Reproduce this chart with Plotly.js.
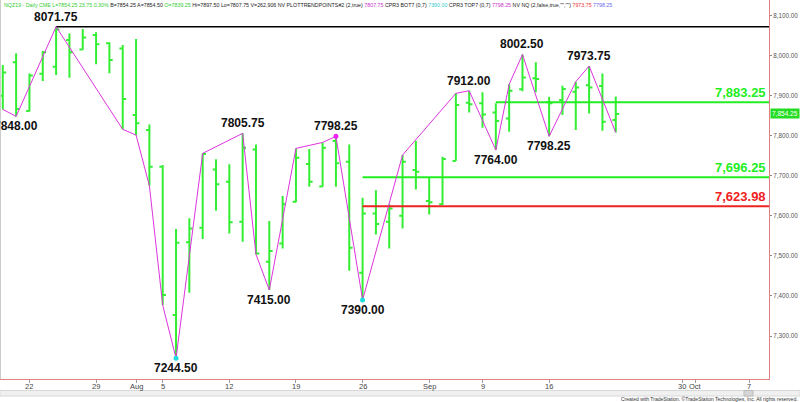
<!DOCTYPE html>
<html><head><meta charset="utf-8">
<script src="https://cdn.plot.ly/plotly-3.0.1.min.js"></script>
<style>html,body{margin:0;padding:0;background:#fff}#chart{width:800px;height:402px}</style>
</head><body><div id="chart"></div>
<script>
// ---- data ----
const dates = ['2019-07-18','2019-07-19','2019-07-22','2019-07-23','2019-07-24','2019-07-25','2019-07-26',
 '2019-07-29','2019-07-30','2019-07-31','2019-08-01','2019-08-02','2019-08-05','2019-08-06','2019-08-07',
 '2019-08-08','2019-08-09','2019-08-12','2019-08-13','2019-08-14','2019-08-15','2019-08-16','2019-08-19',
 '2019-08-20','2019-08-21','2019-08-22','2019-08-23','2019-08-26','2019-08-27','2019-08-28','2019-08-29',
 '2019-08-30','2019-09-03','2019-09-04','2019-09-05','2019-09-06','2019-09-09','2019-09-10','2019-09-11',
 '2019-09-12','2019-09-13','2019-09-16','2019-09-17','2019-09-18','2019-09-19','2019-09-20','2019-09-23'];
const futureDates = ['2019-09-24','2019-09-25','2019-09-26','2019-09-27','2019-09-30','2019-10-01','2019-10-02',
 '2019-10-03','2019-10-04','2019-10-07','2019-10-08','2019-10-09'];
const opens = [7899.6,7982.8,7861.5,7954.5,7972,8038.5,8015,8051,8030.2,8017.7,7851.4,7814,7722.5,7352.4,7533.7,
 7570,7715.8,7685,7585,7765.7,7485.5,7531,7635,7729,7673,7786.5,7735,7458,7606,7585,7600,7714,7636.8,7628.5,
 7737,7882,7880.5,7858,7843,7916,7942.9,7883,7888.8,7909.6,7926,7923.7,7839.25];
const highs = [7976,8005.3,7955,8011,8071.75,8055,8066,8057.7,8032.7,8026,8041,7828,7726.6,7567,7593.6,
 7755.7,7740.8,7728.3,7805.75,7778,7586.9,7649.3,7768.2,7766.6,7783,7798.25,7778,7645,7664,7628.5,7751.6,
 7786.5,7695.9,7747.4,7905.5,7912,7908,7880.5,7928,8002.5,7982.8,7897,7924.6,7934.6,7973.75,7955,7897.5];
const lows = [7865.5,7848,7860,7936,7951.2,7944.5,8014,7977.8,7955.4,7815.6,7801.5,7675,7377.3,7244.5,7408,
 7542,7612.7,7556,7535,7503.7,7415,7518.7,7633.5,7672.6,7672.6,7672.6,7463,7390,7553.6,7518.7,7568.6,
 7665.9,7603.5,7626.8,7736.6,7858,7819.8,7764,7809.8,7911,7908,7798.25,7851.4,7814,7855.5,7812,7807.75];
const closes = [7957.8,7866.4,7950,8008,8065,8007.8,8045,8027.7,7988.6,7891.3,7830.6,7722.5,7402.3,7532.8,7568.6,
 7754,7678.4,7583.6,7770,7506,7512,7628.5,7745,7685,7770,7730.8,7520.4,7606,7579.4,7618.5,7735,
 7710,7633.5,7741.6,7876.3,7878,7853,7836.4,7912,7945,7941,7880.5,7916.3,7920.4,7920.4,7834.8,7854.25];

const zigDates = ['2019-07-18','2019-07-19','2019-07-24','2019-07-31','2019-08-01','2019-08-02','2019-08-05',
 '2019-08-06','2019-08-08','2019-08-13','2019-08-14','2019-08-15','2019-08-19','2019-08-21','2019-08-22',
 '2019-08-26','2019-08-29','2019-09-05','2019-09-06','2019-09-10','2019-09-11','2019-09-12','2019-09-16',
 '2019-09-18','2019-09-19','2019-09-23'];
const zigValues = [7865.5,7848,8071.75,7815.6,7801.5,7675,7377.3,7244.5,7755.7,7805.75,7503.7,7415,7768.2,
 7783,7798.25,7390,7751.6,7905.5,7912,7764,7928,8002.5,7798.25,7934.6,7973.75,7807.75];

const pivotDates = ['2019-07-19','2019-07-24','2019-08-06','2019-08-13','2019-08-15','2019-08-22','2019-08-26',
 '2019-09-06','2019-09-10','2019-09-12','2019-09-16','2019-09-19'];
const pivotValues = [7848.00,8071.75,7244.50,7805.75,7415.00,7798.25,7390.00,7912.00,7764.00,8002.50,7798.25,7973.75];
const pivotSide = ['below','above','below','above','below','above','below','above','below','above','below','above'];

const cyanDotDates = ['2019-08-06','2019-08-26'];
const cyanDotValues = [7244.5,7390];
const magDotDates = ['2019-08-22'];
const magDotValues = [7798.25];

const levelNames = ['high','r1','s1','s2'];
const levelValues = [8071.75,7883.25,7696.25,7623.98];
const levelStart = ['2019-07-24','2019-09-10','2019-08-26','2019-08-26'];
const levelEnd = '2019-10-09';
const levelColors = ['#000000','#22ee22','#22ee22','#ee2222'];
const levelLabeled = [false,true,true,true];

const tickDates = ['2019-07-22','2019-07-29','2019-08-01','2019-08-05','2019-08-12','2019-08-19','2019-08-26',
 '2019-09-03','2019-09-09','2019-09-16','2019-09-30','2019-10-01','2019-10-07'];
const tickLabels = ['22','29','Aug','5','12','19','26','Sep','9','16','30','Oct','7'];
const yTicks = [7300,7400,7500,7600,7700,7800,7900,8000,8100];

const lastPrice = 7854.25;

// ---- chart ----
const allDates = dates.concat(futureDates);
const fmt2 = v => v.toLocaleString('en-US',{minimumFractionDigits:2,maximumFractionDigits:2});
const FONT = 'Liberation Sans, Arial';
const traces = [];
levelValues.forEach((v,i)=>{
  traces.push({type:'scatter',mode:'lines',x:[levelStart[i],levelEnd],y:[v,v],
    line:{color:levelColors[i],width:i===0?1.5:2},hoverinfo:'skip',showlegend:false,name:levelNames[i]});
});
traces.push({type:'ohlc',x:dates,open:opens,high:highs,low:lows,close:closes,tickwidth:0.25,
  increasing:{line:{color:'#33ee33',width:2}},decreasing:{line:{color:'#33ee33',width:2}},showlegend:false});
traces.push({type:'scatter',mode:'lines',x:zigDates,y:zigValues,line:{color:'#dd33dd',width:1},showlegend:false});
traces.push({type:'scatter',mode:'markers',x:cyanDotDates,y:cyanDotValues,marker:{color:'#22dddd',size:5},showlegend:false,cliponaxis:false});
traces.push({type:'scatter',mode:'markers',x:magDotDates,y:magDotValues,marker:{color:'#ee22ee',size:5},showlegend:false});

const H = 402, T = 0, B = 23, PH = H - T - B, PW = 769;
const py = px => (H - B - px) / PH;   // pixel row -> paper y
const px2 = x => x / PW;              // pixel col -> paper x

const ann = [];
pivotDates.forEach((d,i)=>{
  const above = pivotSide[i]==='above';
  ann.push({x:d,y:pivotValues[i],xref:'x',yref:'y',text:pivotValues[i].toFixed(2),showarrow:false,
    yanchor:above?'bottom':'top',yshift:above?1:-1,font:{family:FONT,size:12,color:'#111',weight:'bold'}});
});
levelValues.forEach((v,i)=>{
  if(!levelLabeled[i]) return;
  ann.push({x:1,xref:'paper',y:v,yref:'y',text:fmt2(v),showarrow:false,xanchor:'right',yanchor:'bottom',xshift:-1,yshift:0,
    font:{family:FONT,size:13,color:levelColors[i],weight:'bold'}});
});
tickDates.forEach((d,i)=>{
  ann.push({x:d,xref:'x',y:py(386),yref:'paper',text:tickLabels[i],showarrow:false,yanchor:'middle',
    font:{family:FONT,size:7.5,color:'#444'}});
});
ann.push({x:1,xref:'paper',y:lastPrice,yref:'y',text:fmt2(lastPrice),showarrow:false,xanchor:'left',xshift:1,
  bgcolor:'#22dd22',borderpad:1,font:{family:FONT,size:6.5,color:'#ffffff'}});
const hdr = '<span style="color:#33cc33">NQZ19 - Daily CME L=7854.25 23.75 0.30%</span> B=7854.25 A=7854.50 '+
 '<span style="color:#33cc33">O=7839.25</span> Hi=7897.50 Lo=7807.75 V=262,906 NV PLOTTRENDPOINTS#2 (2,true) '+
 '<span style="color:#cc33cc">7807.75</span> CPR3 BOT7 (0,7) <span style="color:#33cccc">7390.00</span> CPR3 TOP7 (0,7) '+
 '<span style="color:#cc33cc">7798.25</span> NV NQ (2,false,true,"","") <span style="color:#ee3333">7973.75</span> '+
 '<span style="color:#6666ee">7798.25</span>';
ann.push({x:px2(2),xref:'paper',y:py(0),yref:'paper',xanchor:'left',yanchor:'top',showarrow:false,text:hdr,
  font:{family:FONT,size:5.3,color:'#222'}});
ann.push({x:px2(800),xref:'paper',y:py(399),yref:'paper',xanchor:'right',yanchor:'middle',showarrow:false,
  text:'Created with TradeStation. ©TradeStation Technologies, Inc. All rights reserved.',
  font:{family:FONT,size:5,color:'#333'}});

const shapes = [
  {type:'rect',xref:'paper',yref:'paper',x0:px2(0),x1:px2(800),y0:py(396),y1:py(390.5),fillcolor:'#f0f0f0',line:{color:'#d8d8d8',width:1}},
  {type:'rect',xref:'paper',yref:'paper',x0:px2(744),x1:px2(753),y0:py(396),y1:py(390.5),fillcolor:'#d6d6d6',line:{color:'#bbbbbb',width:1}},
  {type:'line',xref:'paper',yref:'paper',x0:px2(0.5),x1:px2(0.5),y0:py(0),y1:py(379),line:{color:'#cccccc',width:1}}
];

const layout = {
  width:800,height:402,margin:{l:0,r:31,t:T,b:B},paper_bgcolor:'#ffffff',plot_bgcolor:'#ffffff',showlegend:false,
  xaxis:{type:'category',categoryorder:'array',categoryarray:allDates,range:[-0.21,57.5],tickmode:'array',
    tickvals:tickDates,ticktext:tickLabels,showticklabels:false,showgrid:false,zeroline:false,showline:true,linecolor:'#e08080',linewidth:1,
    ticks:'outside',ticklen:3,tickcolor:'#999',rangeslider:{visible:false}},
  yaxis:{side:'right',range:[7192.8,8138.4],tickmode:'array',tickvals:yTicks,tickformat:',.2f',showgrid:false,
    zeroline:false,showline:true,linecolor:'#e08080',linewidth:1,ticks:'outside',ticklen:2,tickcolor:'#888',
    tickfont:{family:FONT,size:6.3,color:'#555'}},
  annotations:ann,shapes:shapes
};
Plotly.newPlot('chart',traces,layout,{displayModeBar:false,staticPlot:true});
</script></body></html>
